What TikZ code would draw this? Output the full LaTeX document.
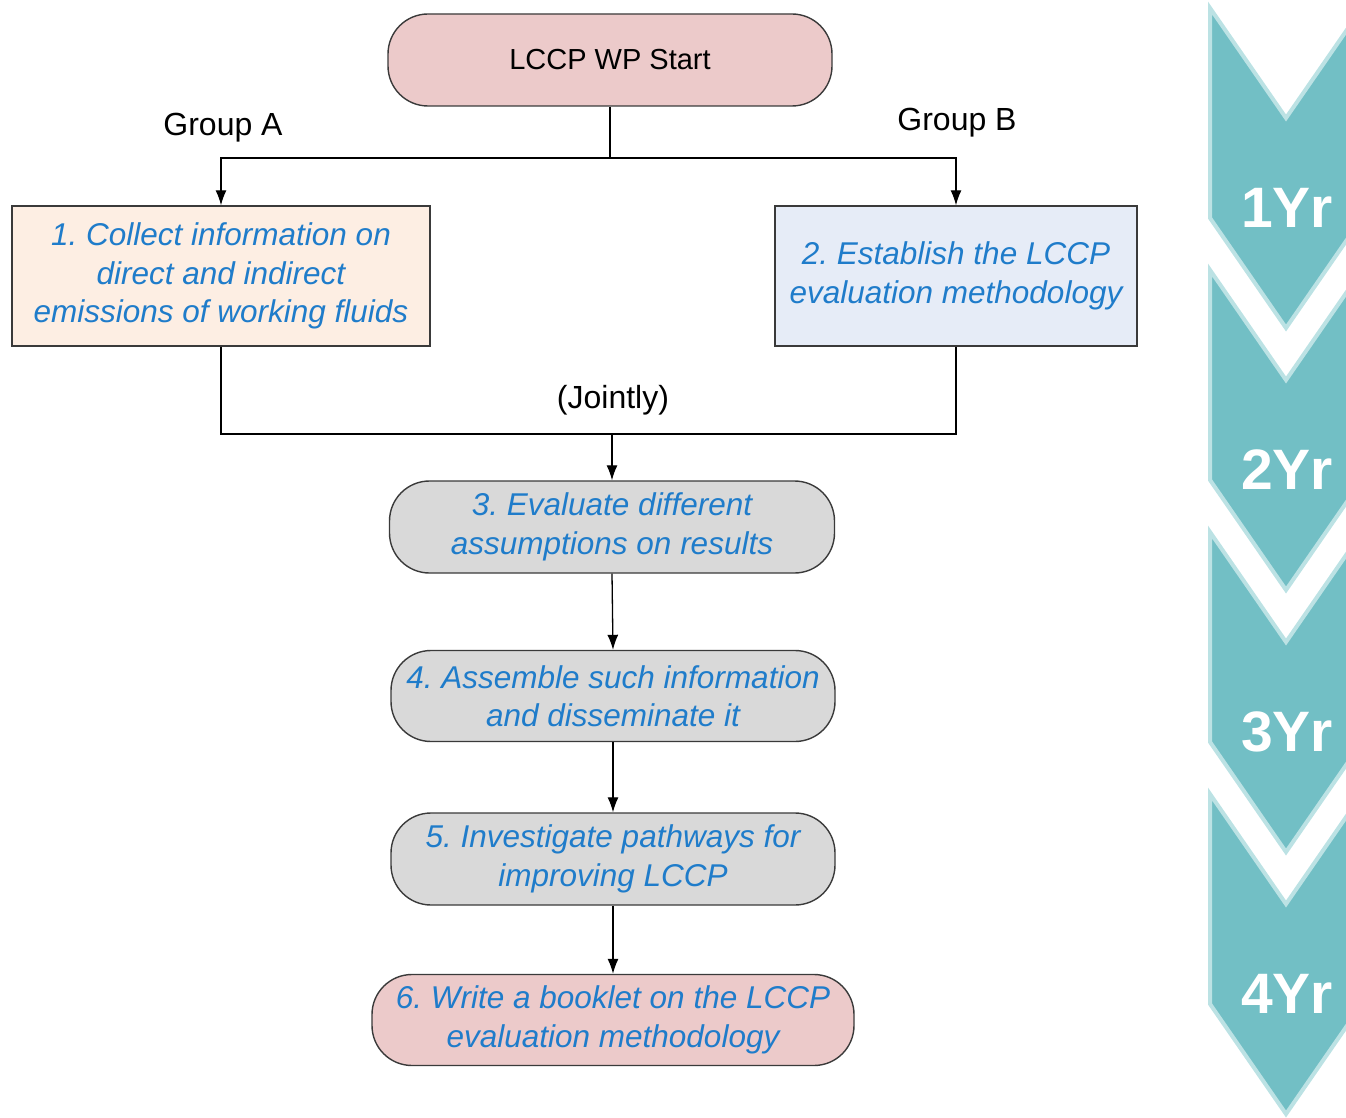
\documentclass[tikz,border=0pt]{standalone}
\usepackage{fontspec}
\setmainfont{Liberation Sans}
\usetikzlibrary{arrows.meta}
\frenchspacing
\definecolor{bluetext}{HTML}{1F7CCA}
\definecolor{pinkfill}{HTML}{ECCACA}
\definecolor{peachfill}{HTML}{FDEEE3}
\definecolor{bluefill}{HTML}{E6ECF7}
\definecolor{grayfill}{HTML}{D9D9D9}
\definecolor{boxline}{HTML}{3A3A3A}
\definecolor{chevfill}{HTML}{72BFC5}
\definecolor{chevline}{HTML}{BCE2E4}
\tikzset{
  blk/.style={font=\fontsize{31.5}{38.5}\selectfont\itshape, text=bluetext, align=center, inner sep=0pt, draw=boxline, line width=1.4pt},
  roundbox/.style={blk, rounded corners=40pt},
  sqbox/.style={blk},
  lbl/.style={font=\fontsize{32}{36}\selectfont, text=black, inner sep=0pt},
  conn/.style={draw=black, line width=1.3pt},
  arr/.style={conn, -{Latex[length=15pt,width=11pt]}},
  chev/.style={fill=chevfill, draw=chevline, line width=4pt, line join=miter},
  yr/.style={font=\fontsize{57}{60}\selectfont\bfseries, text=white, inner sep=0pt}
}
\begin{document}
\begin{tikzpicture}[x=1pt,y=-1pt]
\useasboundingbox (0,0) rectangle (1346,1118);
\begin{scope}
\clip (0,0) rectangle (1346,1118);
\foreach \t/\lab/\nm in {8/1Yr/ya,270/2Yr/yb,532/3Yr/yc,794/4Yr/yd}{
  \draw[chev] (1210,\t) -- (1286,\t+110) -- (1362,\t) -- (1362,\t+210) -- (1286,\t+320) -- (1210,\t+210) -- cycle;
  \node[yr] (\nm) at (1287,\t+200) {\lab};
}
\end{scope}
% nodes
\node[roundbox, fill=pinkfill, minimum width=444pt, minimum height=92pt, font=\fontsize{29}{36}\selectfont, text=black] (start) at (610,60) {LCCP WP Start};
\node[sqbox, fill=peachfill, minimum width=418pt, minimum height=140pt] (b1) at (221,276) {1. Collect information on\\direct and indirect\\emissions of working fluids};
\node[sqbox, fill=bluefill, minimum width=362pt, minimum height=140pt] (b2) at (956,276) {2. Establish the LCCP\\evaluation methodology};
\node[roundbox, fill=grayfill, minimum width=445pt, minimum height=92pt] (n3) at (612,527) {3. Evaluate different\\assumptions on results};
\node[roundbox, fill=grayfill, minimum width=444pt, minimum height=91pt] (n4) at (613,696) {4. Assemble such information\\and disseminate it};
\node[roundbox, fill=grayfill, minimum width=444pt, minimum height=92pt] (n5) at (613,859) {5. Investigate pathways for\\improving LCCP};
\node[roundbox, fill=pinkfill, minimum width=482pt, minimum height=91pt] (n6) at (613,1020) {6. Write a booklet on the LCCP\\evaluation methodology};
% labels
\node[lbl] (ga) at (223,128) {Group A};
\node[lbl] (gb) at (957,123) {Group B};
\node[lbl] (jt) at (613,400) {(Jointly)};
% connectors
\coordinate (split) at (610,158);
\coordinate (join) at (612,434);
\draw[conn] (start.south) -- (split);
\draw[arr] (split) -| (b1.north);
\draw[arr] (split) -| (b2.north);
\draw[conn] (b1.south) |- (join) -| (b2.south);
\draw[arr] (join) -- (n3.north);
\draw[arr] (n3.south) -- (n4.north);
\draw[arr] (n4.south) -- (n5.north);
\draw[arr] (n5.south) -- (n6.north);
\end{tikzpicture}
\end{document}
